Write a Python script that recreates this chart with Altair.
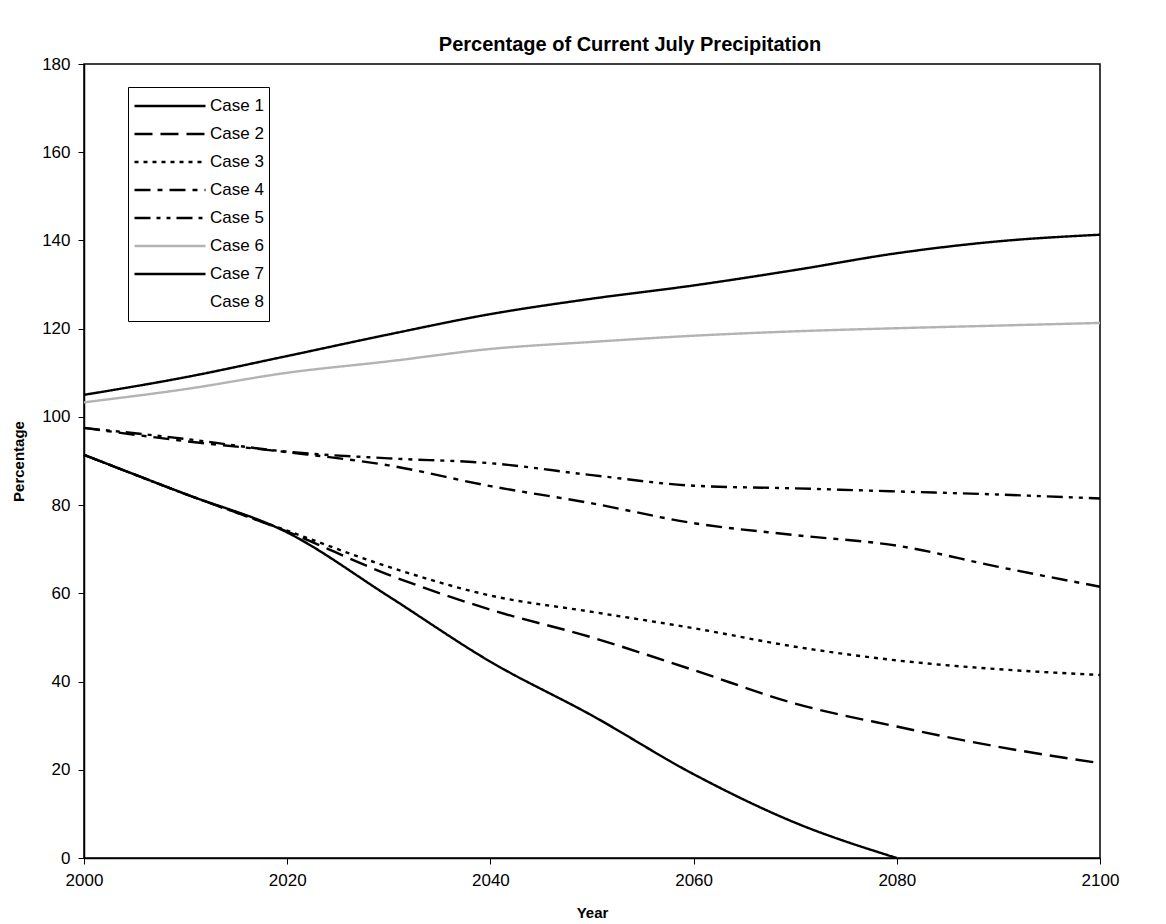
import altair as alt
import pandas as pd

years = [2000, 2010, 2020, 2030, 2040, 2050, 2060, 2070, 2080, 2090, 2100]
cases = ["Case 1", "Case 2", "Case 3", "Case 4", "Case 5", "Case 6", "Case 7", "Case 8"]

case1 = [91.4, 82.5, 73.8, 59.3, 44.5, 32.3, 19.0, 8.0, 0.0]
case2 = [91.4, 82.5, 74.0, 64.2, 56.3, 50.0, 42.6, 35.0, 29.8, 25.2, 21.5]
case3 = [91.4, 82.5, 74.2, 66.0, 59.5, 55.8, 52.1, 47.9, 44.8, 42.8, 41.5]
case4 = [97.5, 94.5, 92.0, 89.0, 84.3, 80.4, 75.9, 73.2, 70.8, 66.0, 61.5]
case5 = [97.5, 95.0, 92.1, 90.6, 89.5, 86.8, 84.4, 83.8, 83.1, 82.4, 81.5]
case6 = [103.3, 106.3, 110.0, 112.6, 115.4, 117.0, 118.4, 119.4, 120.1, 120.7, 121.3]
case7 = [105.0, 109.0, 113.8, 118.7, 123.3, 126.8, 129.8, 133.3, 137.1, 139.8, 141.3]

series = [case1, case2, case3, case4, case5, case6, case7]

colors = ["#000000", "#000000", "#000000", "#000000", "#000000", "#b3b3b3", "#000000", "#ffffff"]
dashes = [[1, 0], [18, 8], [4, 5], [16, 7, 5, 7], [16, 6, 4, 6, 4, 6], [1, 0], [1, 0], [1, 0]]
widths = [2.4, 2.4, 2.4, 2.4, 2.4, 1.6, 2.0, 1.0]

rows = []
for name, vals in zip(cases, series):
    for yr, v in zip(years, vals):
        rows.append({"Year": yr, "Percentage": v, "Case": name})
df = pd.DataFrame(rows)

FONT = "Liberation Sans"

leg = alt.Legend(
    title=None,
    orient="none",
    legendX=44,
    legendY=23,
    symbolType="stroke",
    symbolSize=5041,
    clipHeight=28,
    rowPadding=0,
    labelFont=FONT,
    labelFontSize=17,
    labelColor="black",
    labelOffset=3,
    strokeColor="black",
    fillColor="white",
    padding=5,
)

chart = alt.Chart(df).mark_line(interpolate="monotone").encode(
    x=alt.X(
        "Year:Q",
        scale=alt.Scale(domain=[2000, 2100], nice=False, zero=False),
        axis=alt.Axis(
            values=[2000, 2020, 2040, 2060, 2080, 2100],
            format="d",
            title="Year",
            titleY=54,
            titleBaseline="middle",
            labelFlush=False,
        ),
    ),
    y=alt.Y(
        "Percentage:Q",
        scale=alt.Scale(domain=[0, 180], nice=False),
        axis=alt.Axis(
            values=list(range(0, 181, 20)),
            title="Percentage",
            titleX=-66,
            titleY=397,
            titleAngle=270,
            titleAlign="center",
            titleBaseline="middle",
            labelFlush=False,
        ),
    ),
    color=alt.Color("Case:N", scale=alt.Scale(domain=cases, range=colors), legend=leg),
    strokeDash=alt.StrokeDash("Case:N", scale=alt.Scale(domain=cases, range=dashes), legend=leg),
    strokeWidth=alt.StrokeWidth("Case:N", scale=alt.Scale(domain=cases, range=widths), legend=leg),
).properties(
    width=1016,
    height=794,
    background="white",
    title=alt.Title(
        "Percentage of Current July Precipitation",
        font=FONT,
        fontSize=20,
        fontWeight="bold",
        color="black",
        anchor="middle",
        dx=38,
        offset=0,
    ),
    autosize=alt.AutoSizeParams(type="none"),
    padding={"left": 84, "top": 64, "right": 66, "bottom": 66},
).configure_view(
    stroke="black", strokeWidth=1.5
).configure_axis(
    grid=False,
    domainColor="black",
    domainWidth=1.5,
    tickColor="black",
    tickSize=6,
    labelColor="black",
    labelFont=FONT,
    labelFontSize=17,
    labelPadding=8,
    titleFont=FONT,
    titleFontSize=15,
    titleFontWeight="bold",
    titleColor="black",
)

chart.save("out.html", embed_options={"renderer": "svg", "actions": False})
